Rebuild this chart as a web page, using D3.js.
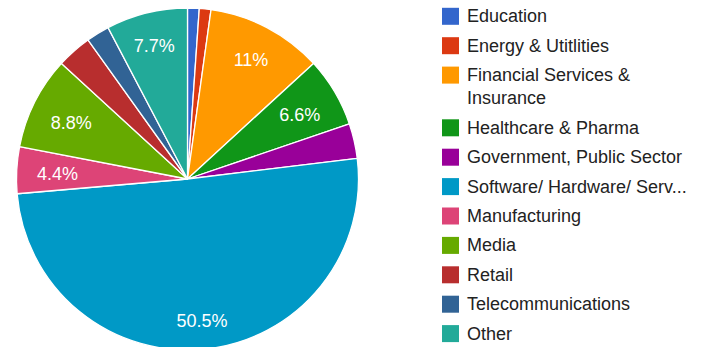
<!DOCTYPE html>
<html>
<head>
<meta charset="utf-8">
<script src="https://cdn.jsdelivr.net/npm/d3@7"></script>
<style>
  html, body { margin: 0; padding: 0; background: #fff; }
  svg { display: block; font-family: "Liberation Sans", Arial, sans-serif; }
</style>
</head>
<body>
<svg id="chart" width="704" height="347"></svg>
<script>
// Respondents by industry (counts)
const categories = [
  "Education",
  "Energy & Utitlities",
  "Financial Services & Insurance",
  "Healthcare & Pharma",
  "Government, Public Sector",
  "Software/ Hardware/ Serv...",
  "Manufacturing",
  "Media",
  "Retail",
  "Telecommunications",
  "Other"
];
const counts = [1, 1, 10, 6, 3, 46, 4, 8, 3, 2, 7];
const colors = [
  "#3366cc", "#dc3912", "#ff9900", "#109618", "#990099", "#0099c6",
  "#dd4477", "#66aa00", "#b82e2e", "#316395", "#22aa99"
];
// Slices narrower than this share get no percentage label
const labelMinShare = 0.04;

const svg = d3.select("#chart");
const cx = 187.5, cy = 179, R = 171;
const fontSize = 18;

const data = categories.map((name, i) => ({ name, value: counts[i], color: colors[i] }));
const total = d3.sum(counts);

const pie = d3.pie().value(d => d.value).sort(null);
const arc = d3.arc().innerRadius(0).outerRadius(R);
const arcs = pie(data);

const g = svg.append("g").attr("transform", `translate(${cx},${cy})`);

g.selectAll("path.slice")
  .data(arcs)
  .join("path")
  .attr("class", "slice")
  .attr("d", arc)
  .attr("fill", d => d.data.color)
  .attr("stroke", "#fff")
  .attr("stroke-width", 1.3)
  .attr("stroke-linejoin", "round");

const fmt = v => {
  const p = Math.round(v * 1000) / 10;
  return (Number.isInteger(p) ? p.toFixed(0) : p.toFixed(1)) + "%";
};

const labels = g.selectAll("text.pct")
  .data(arcs.filter(d => d.data.value / total >= labelMinShare))
  .join("text")
  .attr("class", "pct")
  .attr("fill", "#fff")
  .attr("font-size", fontSize)
  .attr("text-anchor", "middle")
  .attr("dy", "0.45em")
  .text(d => fmt(d.data.value / total));

labels.each(function(d) {
  const a = (d.startAngle + d.endAngle) / 2;
  const w = this.getComputedTextLength();
  // keep the label box inside the slice: pull inward by part of its half width
  const dist = R * 0.865 - Math.abs(Math.sin(a)) * w * 0.5 * 0.85 - Math.abs(Math.cos(a)) * 5;
  d3.select(this)
    .attr("x", Math.sin(a) * dist)
    .attr("y", -Math.cos(a) * dist);
});

// Legend
const legend = svg.append("g").attr("transform", "translate(442,0)");
const rowStep = 29.4, lineStep = 23.3, maxTextWidth = 232;
const swatch = 17, textX = 25;
let y = 16.3;

data.forEach(d => {
  const row = legend.append("g");
  row.append("rect")
    .attr("x", 0).attr("y", y - swatch / 2)
    .attr("width", swatch).attr("height", swatch)
    .attr("fill", d.color);

  const text = row.append("text")
    .attr("x", textX)
    .attr("font-size", fontSize)
    .attr("fill", "#222");

  // wrap long names word by word
  const words = d.name.split(" ");
  let line = [];
  let lineY = y;
  let tspan = text.append("tspan").attr("x", textX).attr("y", lineY + 6);
  words.forEach(word => {
    line.push(word);
    tspan.text(line.join(" "));
    if (tspan.node().getComputedTextLength() > maxTextWidth && line.length > 1) {
      line.pop();
      tspan.text(line.join(" "));
      line = [word];
      lineY += lineStep;
      tspan = text.append("tspan").attr("x", textX).attr("y", lineY + 6).text(word);
    }
  });
  y = lineY + rowStep;
});
</script>
</body>
</html>
